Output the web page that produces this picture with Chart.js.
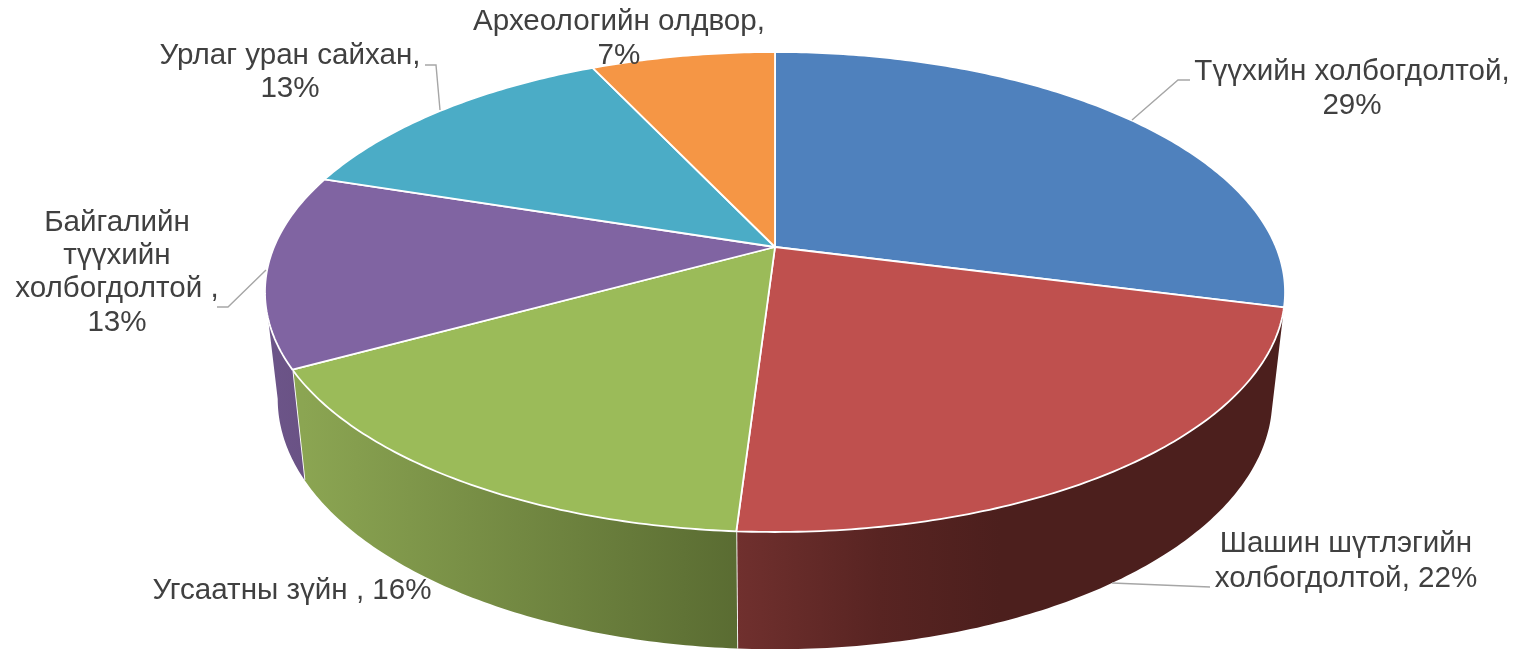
<!DOCTYPE html>
<html>
<head>
<meta charset="utf-8">
<style>html,body{margin:0;padding:0;background:#fff;overflow:hidden}canvas{display:block}</style>
<script src="https://cdn.jsdelivr.net/npm/chart.js@4/dist/chart.umd.js"></script>
</head>
<body>
<canvas id="c" width="1525" height="649"></canvas>
<script>
const categories = ['Түүхийн холбогдолтой','Шашин шүтлэгийн холбогдолтой','Угсаатны зүйн','Байгалийн түүхийн холбогдолтой','Урлаг уран сайхан','Археологийн олдвор'];
const values = [29, 22, 16, 13, 13, 7];
const colors = ['#4f81bd','#bf504e','#9bbb59','#8064a2','#4bacc6','#f59645'];

// perspective of the disc: apex and ellipse shape
const P = {cx:775, cy:247, a:501, b:231.56, c:-0.1875, sx:0.975, sy:1.043, ty:94.4};
const WALL_FROM = 10.8*Math.PI/180, WALL_TO = 169.2*Math.PI/180;
const wallStops = [
  null,
  [[737,'#70302e'],[880,'#582422'],[1000,'#4c1f1d'],[1280,'#4c1f1d']],
  [[303,'#8ba552'],[737,'#5a6c32']],
  [[265,'#6c5589'],[303,'#6a5285']],
  null, null
];
const labelLayout = [
  {x:1352, y:[72,106],  lines:['Түүхийн холбогдолтой,'], inline:false},
  {x:1346, y:[544,579], lines:['Шашин шүтлэгийн','холбогдолтой,'], inline:true},
  {x:292,  y:[591],     lines:['Угсаатны зүйн ,'], inline:true},
  {x:117,  y:[223,256,289,323], lines:['Байгалийн','түүхийн','холбогдолтой ,'], inline:false},
  {x:290,  y:[56,89],   lines:['Урлаг уран сайхан,'], inline:false},
  {x:619,  y:[22,56],   lines:['Археологийн олдвор,'], inline:false}
];
const leaders = [
  [[1132,120],[1178,80],[1190,80]],
  [[1112,583],[1210,587]],
  null,
  [[266,270],[228,307],[217,307]],
  [[440,110],[436,65],[425,65]],
  null
];

function top3d(ang){
  const X=Math.cos(ang), Y=Math.sin(ang), d=1+P.c*Y;
  return [P.cx+P.a*X/d, P.cy+P.b*Y/d];
}
function bottom3d(ang){
  const t=top3d(ang);
  return [P.cx+P.sx*(t[0]-P.cx), P.sy*t[1]+P.ty];
}
function arcPts(f,a1,a2){
  const n=Math.max(4,Math.ceil(Math.abs(a2-a1)*80)), pts=[];
  for(let i=0;i<=n;i++) pts.push(f(a1+(a2-a1)*i/n));
  return pts;
}
class Pie3DArc extends Chart.ArcElement{
  static id='pie3dArc';
  draw(ctx){
    const i=this.$context.dataIndex;
    let a1=this.startAngle, a2=this.endAngle;
    ctx.save();
    ctx.lineJoin='round';
    ctx.strokeStyle='#ffffff';
    // side wall
    const w1=Math.max(a1,WALL_FROM), w2=Math.min(a2,WALL_TO);
    if(wallStops[i] && w2>w1){
      const tp=arcPts(top3d,w1,w2), bp=arcPts(bottom3d,w2,w1);
      const st=wallStops[i], x0=st[0][0], x1=st[st.length-1][0];
      const g=ctx.createLinearGradient(x0,0,x1,0);
      st.forEach(s=>g.addColorStop((s[0]-x0)/(x1-x0),s[1]));
      ctx.fillStyle=g;
      ctx.beginPath();
      tp.concat(bp).forEach((p,k)=>k?ctx.lineTo(p[0],p[1]):ctx.moveTo(p[0],p[1]));
      ctx.closePath();
      ctx.fill();
      ctx.lineWidth=1.8;
      // vertical seam between neighbouring walls
      if(w2===a2){
        const t=top3d(a2), b=bottom3d(a2);
        ctx.beginPath();ctx.moveTo(t[0],t[1]);ctx.lineTo(b[0],b[1]);ctx.stroke();
      }
    }
    // top face
    const pts=arcPts(top3d,a1,a2);
    ctx.fillStyle=this.options.backgroundColor;
    ctx.beginPath();
    ctx.moveTo(P.cx,P.cy);
    pts.forEach(p=>ctx.lineTo(p[0],p[1]));
    ctx.closePath();
    ctx.fill();
    ctx.lineWidth=1.8;
    ctx.stroke();
    ctx.restore();
  }
}
class Pie3DController extends Chart.PieController{
  static id='pie3d';
  static defaults={dataElementType:'pie3dArc'};
}
Chart.register(Pie3DArc,Pie3DController);

const labelsPlugin={
  id:'labels3d',
  afterDatasetsDraw(chart){
    const ctx=chart.ctx;
    ctx.save();
    ctx.strokeStyle='#a6a6a6';
    ctx.lineWidth=1.4;
    leaders.forEach(l=>{
      if(!l)return;
      ctx.beginPath();
      l.forEach((p,k)=>k?ctx.lineTo(p[0],p[1]):ctx.moveTo(p[0],p[1]));
      ctx.stroke();
    });
    ctx.fillStyle='#404040';
    ctx.font='29.6px "Liberation Sans", Arial, sans-serif';
    ctx.textAlign='center';
    ctx.textBaseline='middle';
    labelLayout.forEach((l,i)=>{
      const v=chart.data.datasets[0].data[i]+'%';
      const lines=l.lines.slice();
      if(l.inline) lines[lines.length-1]+=' '+v; else lines.push(v);
      lines.forEach((t,k)=>ctx.fillText(t,l.x,l.y[k]));
    });
    ctx.restore();
  }
};

new Chart(document.getElementById('c'),{
  type:'pie3d',
  data:{labels:categories,datasets:[{data:values,backgroundColor:colors,borderWidth:0}]},
  options:{
    responsive:false,
    animation:false,
    plugins:{legend:{display:false},tooltip:{enabled:false}}
  },
  plugins:[labelsPlugin]
});
</script>
</body>
</html>
